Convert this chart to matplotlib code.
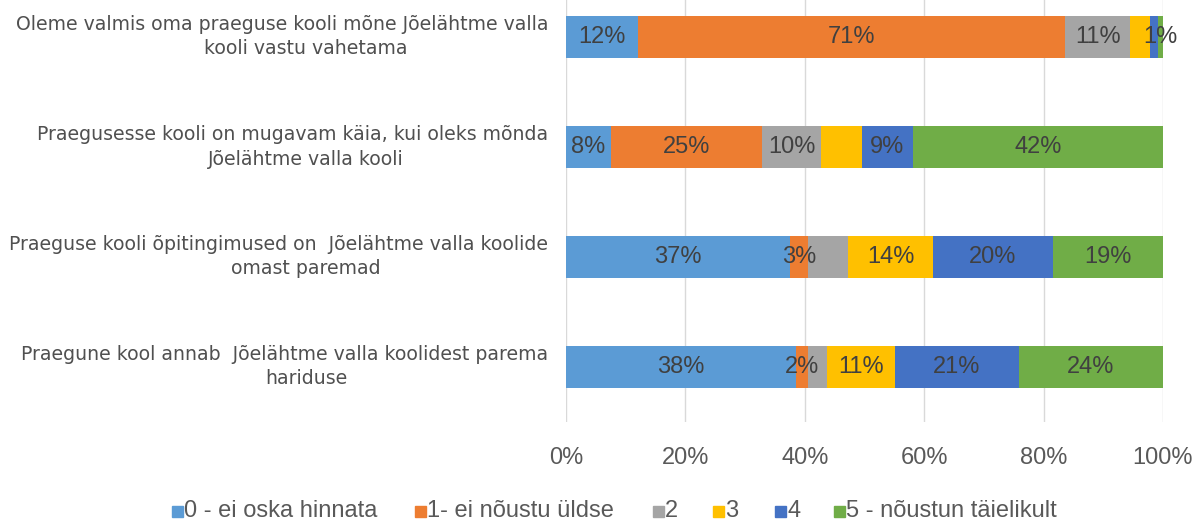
import matplotlib
matplotlib.use("Agg")
import matplotlib.pyplot as plt
from matplotlib.patches import Rectangle
import numpy as np

categories = [
    ("Oleme valmis oma praeguse kooli mõne Jõelähtme valla", "kooli vastu vahetama"),
    ("Praegusesse kooli on mugavam käia, kui oleks mõnda", "Jõelähtme valla kooli"),
    ("Praeguse kooli õpitingimused on  Jõelähtme valla koolide", "omast paremad"),
    ("Praegune kool annab  Jõelähtme valla koolidest parema", "hariduse"),
]
series_names = ["0 - ei oska hinnata", "1- ei nõustu üldse", "2", "3", "4",
                "5 - nõustun täielikult"]
colors = ["#5B9BD5", "#ED7D31", "#A5A5A5", "#FFC000", "#4472C4", "#70AD47"]

# values per series (one per category, top to bottom)
s0 = [12.0, 7.5, 37.6, 38.5]
s1 = [71.6, 25.4, 3.0, 2.1]
s2 = [10.9, 9.8, 6.7, 3.2]
s3 = [3.4, 6.8, 14.2, 11.3]
s4 = [1.2, 8.7, 20.0, 20.8]
s5 = [0.9, 41.8, 18.5, 24.1]
series = [s0, s1, s2, s3, s4, s5]

# data labels as shown (empty = not shown)
labels0 = ["12%", "8%", "37%", "38%"]
labels1 = ["71%", "25%", "3%", "2%"]
labels2 = ["11%", "10%", "", ""]
labels3 = ["", "", "14%", "11%"]
labels4 = ["", "9%", "20%", "21%"]
labels5 = ["1%", "42%", "19%", "24%"]
all_labels = [labels0, labels1, labels2, labels3, labels4, labels5]

xticks = [0, 20, 40, 60, 80, 100]
xticklabels = ["0%", "20%", "40%", "60%", "80%", "100%"]

W, H = 1198, 524
fig = plt.figure(figsize=(W / 100, H / 100), dpi=100)
ax = fig.add_axes([566 / W, 102 / H, 597 / W, 440 / H])

data = np.array(series, dtype=float)
totals = data.sum(axis=0)
pct = data / totals * 100
y = np.arange(len(categories))
left = np.zeros(len(categories))
for i in range(len(series)):
    bars = ax.barh(y, pct[i], left=left, height=0.38, color=colors[i],
                   edgecolor="none", zorder=3)
    for j, b in enumerate(bars):
        if all_labels[i][j]:
            ax.text(left[j] + pct[i][j] / 2, y[j], all_labels[i][j],
                    ha="center", va="center", fontsize=17,
                    family="Liberation Sans", color="#404040", zorder=4)
    left += pct[i]

ax.set_xlim(0, 100)
ax.set_ylim(3.5, -0.5)
ax.set_xticks(xticks)
ax.set_xticklabels(xticklabels, fontsize=17, family="Liberation Sans",
                   color="#595959")
ax.set_yticks([])
ax.tick_params(axis="x", length=0, pad=18)
ax.grid(axis="x", color="#D9D9D9", linewidth=1, zorder=0)
for s in ax.spines.values():
    s.set_visible(False)

# category labels
for j, (l1, l2) in enumerate(categories):
    yc = ax.transData.transform((0, y[j]))[1] / H
    fig.text(548 / W, yc + 12 / H, l1, ha="right", va="center", fontsize=13.6,
             family="DejaVu Sans", color="#505050")
    fig.text(306 / W, yc - 12 / H, l2, ha="center", va="center", fontsize=13.6,
             family="DejaVu Sans", color="#505050")

# legend
mx = [172, 415, 653, 713, 775, 834]
ly = 1 - 511 / H
for k, name in enumerate(series_names):
    fig.patches.append(Rectangle((mx[k] / W, ly - 6 / H), 11 / W, 11 / H,
                                 transform=fig.transFigure, color=colors[k]))
    fig.text((mx[k] + 12) / W, ly, name, ha="left", va="center", fontsize=17,
             family="Liberation Sans", color="#595959")

fig.savefig("out.png", dpi=100)
